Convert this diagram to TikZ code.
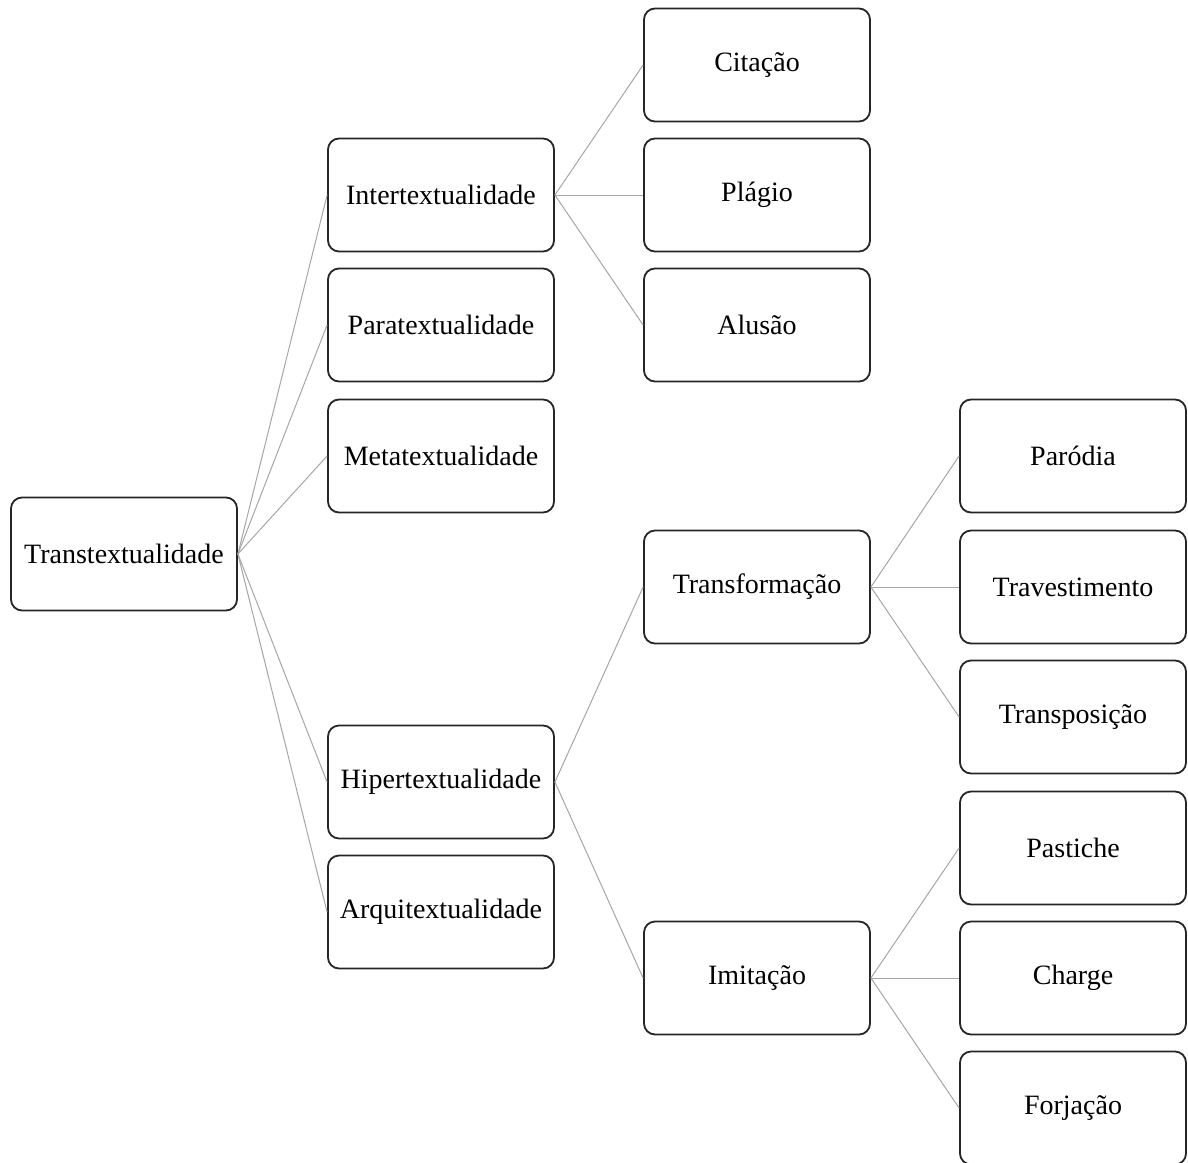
\documentclass[tikz,border=0pt]{standalone}
\usepackage{fontspec}
\setmainfont{Liberation Serif}
\usetikzlibrary{positioning}

\begin{document}
\begin{tikzpicture}[x=1pt,y=-1pt,
box/.style={draw=black!85,line width=1.8pt,rounded corners=11pt,fill=white,
  minimum width=226pt,minimum height=113pt,inner sep=0pt,
  font=\fontsize{28}{32}\selectfont},
link/.style={draw=black!35,line width=1pt},]
\useasboundingbox (0,0) rectangle (1188,1162);
% first level
\node[box] (trans) at (124,554) {Transtextualidade};
% second level
\node[box] (inter) at (441,195) {Intertextualidade};
\node[box] (para)  at (441,325) {Paratextualidade};
\node[box] (meta)  at (441,456) {Metatextualidade};
\node[box] (hiper) at (441,782) {Hipertextualidade};
\node[box] (arqui) at (441,912) {Arquitextualidade};
% third level
\node[box] (cita)   at (757,65)  {Citação};
\node[box] (plagio) at (757,195) {Plágio};
\node[box] (alusao) at (757,325) {Alusão};
\node[box] (transf) at (757,587) {Transformação};
\node[box] (imita)  at (757,978) {Imitação};
% fourth level
\node[box] (parod)  at (1073,456)  {Paródia};
\node[box] (trav)   at (1073,587)  {Travestimento};
\node[box] (transp) at (1073,717)  {Transposição};
\node[box] (past)   at (1073,848)  {Pastiche};
\node[box] (charge) at (1073,978)  {Charge};
\node[box] (forj)   at (1073,1108) {Forjação};

\foreach \a/\b in {trans/inter,trans/para,trans/meta,trans/hiper,trans/arqui,
  inter/cita,inter/plagio,inter/alusao,hiper/transf,hiper/imita,
  transf/parod,transf/trav,transf/transp,imita/past,imita/charge,imita/forj}
  \draw[link] (\a.east) -- (\b.west);
\end{tikzpicture}
\end{document}
